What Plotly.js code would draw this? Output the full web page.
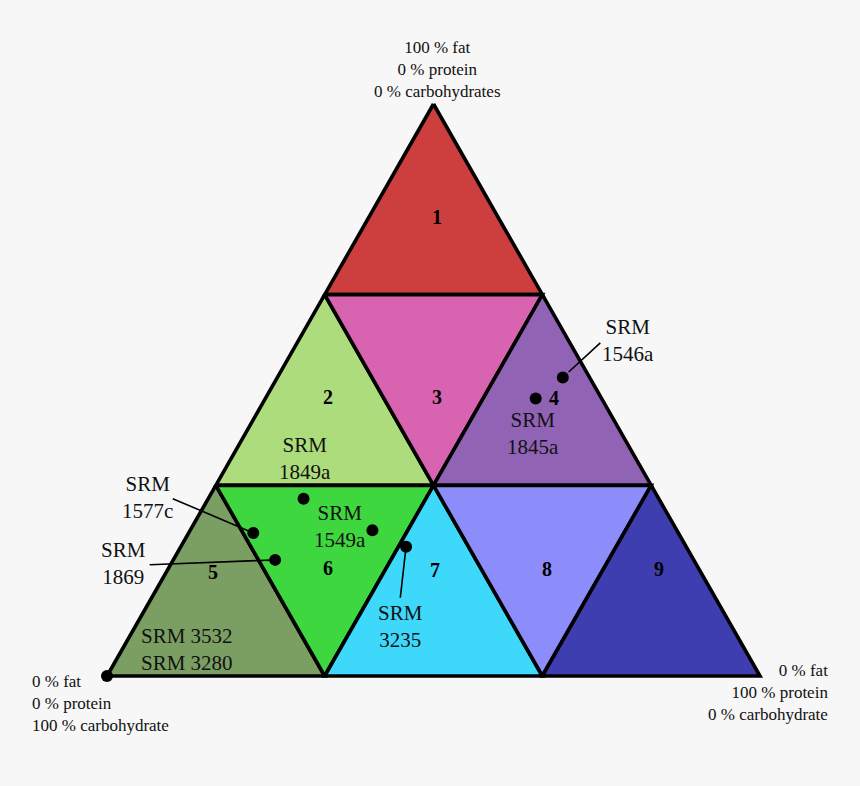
<!DOCTYPE html>
<html>
<head>
<meta charset="utf-8">
<script src="https://cdn.plot.ly/plotly-3.0.1.min.js"></script>
<style>html,body{margin:0;padding:0;background:#f7f7f7;}#chart{width:860px;height:786px;}</style>
</head>
<body>
<div id="chart"></div>
<script>
// ---- Data: composition regions (ternary: fat %, protein %, carbohydrate % = remainder) ----
const T = 100 / 3;
const regionNames = ['1', '2', '3', '4', '5', '6', '7', '8', '9'];
const regionVertexFat = [
  [100, 2 * T, 2 * T], [2 * T, T, T], [2 * T, 2 * T, T],
  [2 * T, T, T], [T, 0, 0], [T, T, 0],
  [T, 0, 0], [T, T, 0], [T, 0, 0]
];
const regionVertexProtein = [
  [0, 0, T], [0, 0, T], [0, T, T],
  [T, T, 2 * T], [0, 0, T], [0, T, T],
  [T, T, 2 * T], [T, 2 * T, 2 * T], [2 * T, 2 * T, 100]
];
const regionColors = ['#cd3f3f', '#acdc7c', '#d863b0', '#9163b5', '#7b9e63', '#3fd73f', '#3dd8fa', '#8c8cfb', '#3e3eb0'];

// ---- Data: reference materials (fat %, protein %, carbohydrate %) ----
const srmNames = ['SRM<br>1546a', 'SRM<br>1845a', 'SRM<br>1849a', 'SRM<br>1549a', 'SRM<br>1577c', 'SRM<br>1869', 'SRM<br>3235', 'SRM 3532<br>SRM 3280'];
const srmFat     = [52.2, 48.5, 31.0, 25.5, 25.0, 20.3, 22.6, 0];
const srmProtein = [43.7, 41.4, 14.6, 27.9, 9.9, 15.6, 34.5, 0];
const srmCarb    = [4.1, 10.1, 54.4, 46.6, 65.1, 64.1, 42.9, 100];

// ---- Data: corner labels ----
const cornerLabels = [
  '100 % fat<br>0 % protein<br>0 % carbohydrates',
  '0 % fat<br>0 % protein<br>100 % carbohydrate',
  '0 % fat<br>100 % protein<br>0 % carbohydrate'
];
const cornerFat = [100, 0, 0];
const cornerProtein = [0, 0, 100];

// ---- Ternary -> cartesian helpers ----
const tx = (f, p) => (p + f / 2) / 100;
const ty = (f) => f / 100;

// ---- Styles / offsets (pixels) ----
const FONT = 'Liberation Serif, Times New Roman, serif';
const regionLabelShift = [[3, 14], [3.5, 24.5], [3, -39], [12, 24], [-2.5, 40.5], [3.5, -19.5], [1.5, 42], [5, -20], [8, 43]];
const srmLabelShift = [[65, 37], [-3, -35], [1, 40], [-32, 4], [-106, 36], [-152, -4], [-6, -80], [80, 27]];
const leader = { 0: [39, -36, 8], 4: [-82, -35, 5], 5: [-127, 5, 5], 6: [-6, 53, 4] };

const traces = [];
regionNames.forEach((name, i) => {
  const xs = regionVertexFat[i].map((f, k) => tx(f, regionVertexProtein[i][k]));
  const ys = regionVertexFat[i].map(f => ty(f));
  xs.push(xs[0]); ys.push(ys[0]);
  traces.push({
    type: 'scatter', mode: 'lines', x: xs, y: ys, fill: 'toself',
    fillcolor: regionColors[i], line: { color: '#000', width: 3.6 },
    hoverinfo: 'skip', showlegend: false, cliponaxis: false
  });
});
traces.push({
  type: 'scatter', mode: 'markers',
  x: srmFat.map((f, i) => tx(f, srmProtein[i])),
  y: srmFat.map(f => ty(f)),
  marker: { color: '#000', size: 12 },
  hoverinfo: 'skip', showlegend: false, cliponaxis: false
});

const annotations = [];
// region numbers at centroids
regionNames.forEach((name, i) => {
  const cx = regionVertexFat[i].reduce((s, f, k) => s + tx(f, regionVertexProtein[i][k]), 0) / 3;
  const cy = regionVertexFat[i].reduce((s, f) => s + ty(f), 0) / 3;
  annotations.push({
    x: cx, y: cy, text: '<b>' + name + '</b>', showarrow: false,
    xshift: regionLabelShift[i][0], yshift: regionLabelShift[i][1],
    font: { family: FONT, size: 20, color: '#000' }
  });
});
// SRM labels
srmNames.forEach((name, i) => {
  const px = tx(srmFat[i], srmProtein[i]), py = ty(srmFat[i]);
  annotations.push({
    x: px, y: py, text: name, showarrow: false,
    xshift: srmLabelShift[i][0], yshift: srmLabelShift[i][1],
    font: { family: FONT, size: 21, color: '#111' }
  });
  if (leader[i]) {
    annotations.push({
      x: px, y: py, text: ' ', showarrow: true, arrowhead: 0,
      ax: leader[i][0], ay: leader[i][1], standoff: leader[i][2],
      arrowwidth: 1.6, arrowcolor: '#000',
      font: { size: 1 }
    });
  }
});
// corner labels
const cornerStyle = [
  { xanchor: 'center', yanchor: 'middle', xshift: 3.5, yshift: 35, align: 'center' },
  { xanchor: 'left', yanchor: 'middle', xshift: -77, yshift: -27, align: 'left' },
  { xanchor: 'right', yanchor: 'middle', xshift: 70, yshift: -16, align: 'right' }
];
cornerLabels.forEach((t, i) => {
  annotations.push(Object.assign({
    x: tx(cornerFat[i], cornerProtein[i]), y: ty(cornerFat[i]),
    text: t, showarrow: false,
    font: { family: FONT, size: 17, color: '#111' }
  }, cornerStyle[i]));
});

// axis ranges so that the triangle sits at the reference pixel position
const X0 = 107, W = 653, Y0 = 676, H = 572, PW = 860, PH = 786;
const layout = {
  width: PW, height: PH,
  margin: { l: 0, r: 0, t: 0, b: 0 },
  paper_bgcolor: '#f7f7f7', plot_bgcolor: '#f7f7f7',
  xaxis: { range: [-X0 / W, (PW - X0) / W], visible: false, fixedrange: true },
  yaxis: { range: [(Y0 - PH) / H, Y0 / H], visible: false, fixedrange: true },
  annotations: annotations,
  showlegend: false
};
Plotly.newPlot('chart', traces, layout, { staticPlot: true, displayModeBar: false });
</script>
</body>
</html>
